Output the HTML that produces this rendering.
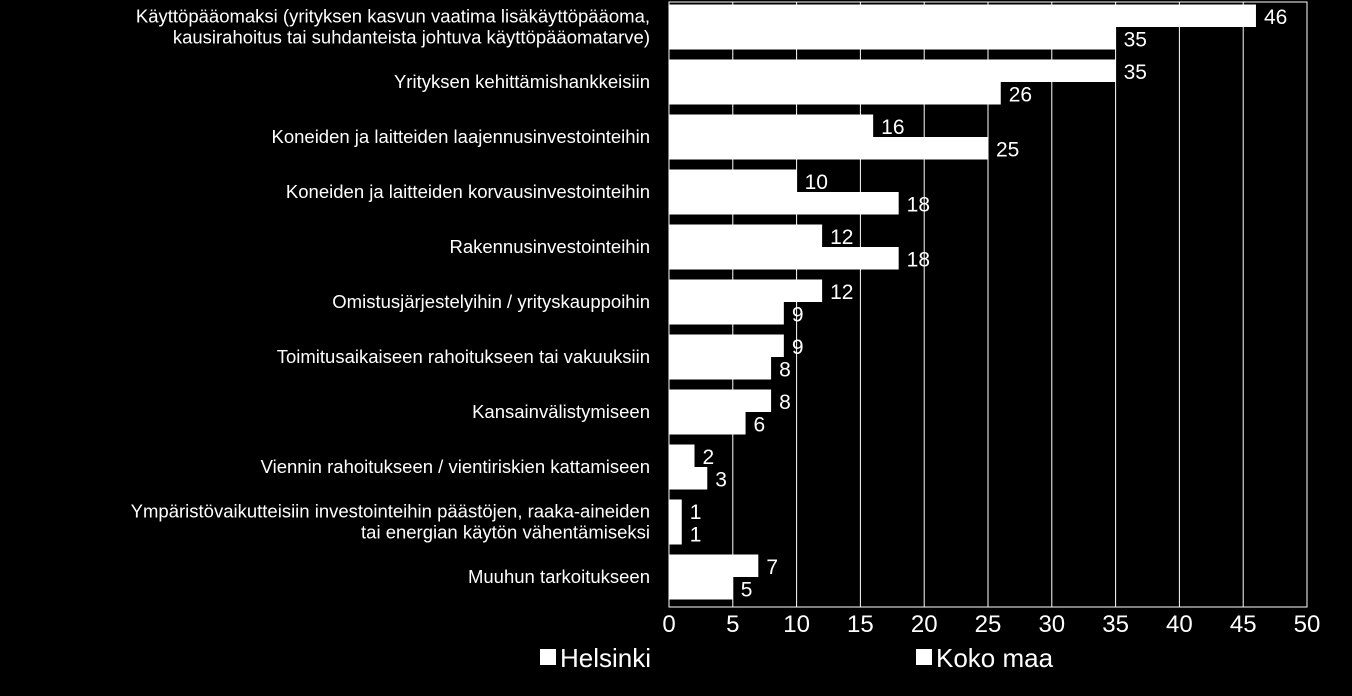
<!DOCTYPE html>
<html><head><meta charset="utf-8"><style>
body{margin:0;background:#000;width:1352px;height:691px;overflow:hidden}
svg text{font-family:"Liberation Sans",sans-serif;fill:#fff}
</style></head><body>
<svg id="c" width="1352" height="691"></svg>
<script>
const categories=["Käyttöpääomaksi (yrityksen kasvun vaatima lisäkäyttöpääoma,|kausirahoitus tai suhdanteista johtuva käyttöpääomatarve)","Yrityksen kehittämishankkeisiin","Koneiden ja laitteiden laajennusinvestointeihin","Koneiden ja laitteiden korvausinvestointeihin","Rakennusinvestointeihin","Omistusjärjestelyihin / yrityskauppoihin","Toimitusaikaiseen rahoitukseen tai vakuuksiin","Kansainvälistymiseen","Viennin rahoitukseen / vientiriskien kattamiseen","Ympäristövaikutteisiin investointeihin päästöjen, raaka-aineiden|tai energian käytön vähentämiseksi","Muuhun tarkoitukseen"];
const helsinki=[46,35,16,10,12,12,9,8,2,1,7];
const kokoMaa=[35,26,25,18,18,9,8,6,3,1,5];
const ticks=[0,5,10,15,20,25,30,35,40,45,50];
const svg=document.getElementById('c');
const NS='http://www.w3.org/2000/svg';
const X0=669,X1=1307,Y0=2,Y1=607,MAX=50;
const x=v=>X0+(X1-X0)*v/MAX;
const band=(Y1-Y0)/categories.length;
const y=i=>Y0+i*band;
function mk(t,a,p){const e=document.createElementNS(NS,t);for(const k in a)e.setAttribute(k,a[k]);(p||svg).appendChild(e);return e;}
ticks.forEach(t=>{
 const l=mk('line',{x1:x(t),x2:x(t),y1:Y0,y2:Y1,stroke:'#fff','stroke-width':1});
 
 
 const tx=mk('text',{x:x(t),y:632,'text-anchor':'middle','font-size':24});
 tx.textContent=t;
 
 
});
const fr=mk('rect',{x:X0,y:Y0,width:X1-X0,height:Y1-Y0,fill:'none',stroke:'#fff','stroke-width':1});


const bh=22.5;
categories.forEach((c,i)=>{
 const top=y(i)+2.5;
 const b1=mk('rect',{x:X0,y:top,width:x(helsinki[i])-X0,height:bh,fill:'#fff'});
 
 
 const b2=mk('rect',{x:X0,y:top+bh,width:x(kokoMaa[i])-X0,height:bh,fill:'#fff'});
 
 
 const v1=mk('text',{x:x(helsinki[i])+8,y:top+bh/2+8,'font-size':21});
 v1.textContent=helsinki[i];
 
 
 const v2=mk('text',{x:x(kokoMaa[i])+8,y:top+bh*1.5+8,'font-size':21});
 v2.textContent=kokoMaa[i];
 
 
 const lines=c.split('|');
 const cy=top+bh;
 lines.forEach((ln,j)=>{
  const t=mk('text',{x:650,y:cy+6+(j-(lines.length-1)/2)*21,'text-anchor':'end','font-size':18.5});
  t.textContent=ln;
  
  
 });
});
const lg=[["Helsinki",540],["Koko maa",916]];
lg.forEach(([n,lx])=>{
 const r=mk('rect',{x:lx,y:649,width:16,height:16,fill:'#fff'});
 
 
 const t=mk('text',{x:lx+20,y:667,'font-size':26});
 t.textContent=n;
 
 
});
</script>
</body></html>
